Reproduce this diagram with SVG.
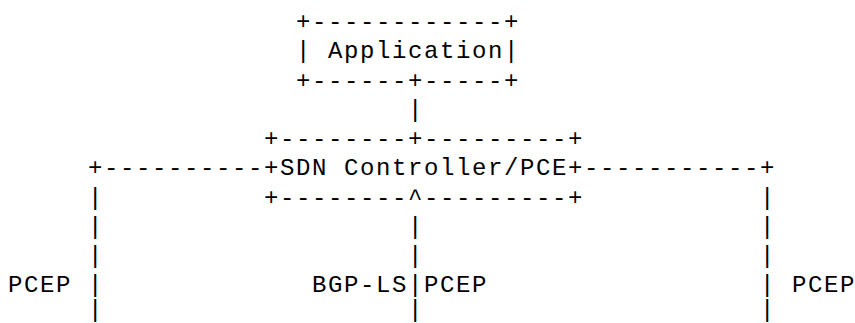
<svg xmlns="http://www.w3.org/2000/svg" width="855" height="323" viewBox="0 0 855 323">
<style>
  text { font-family: "Liberation Mono", "DejaVu Sans Mono", monospace; font-size: 24px; letter-spacing: 1.6px; fill: #000; white-space: pre; }
</style>
<rect width="855" height="323" fill="#fff"/>
<g id="application">
  <text x="296" y="29" xml:space="preserve">+------------+</text>
  <text x="296" y="58.25" xml:space="preserve">| Application|</text>
  <text x="296" y="87.5" xml:space="preserve">+------+-----+</text>
</g>
<g id="sdn-controller">
  <text x="264" y="146" xml:space="preserve">+--------+---------+</text>
  <text x="264" y="175.25" xml:space="preserve">+SDN Controller/PCE+</text>
  <text x="264" y="204.5" xml:space="preserve">+--------^---------+</text>
</g>
<g id="connectors">
  <text x="408" y="116.75">|</text>
  <text x="88" y="175.25">+----------</text>
  <text x="584" y="175.25">-----------+</text>
  <text x="88" y="204.5">|</text>
  <text x="760" y="204.5">|</text>
  <text x="88" y="233.75">|</text>
  <text x="408" y="233.75">|</text>
  <text x="760" y="233.75">|</text>
  <text x="88" y="263">|</text>
  <text x="408" y="263">|</text>
  <text x="760" y="263">|</text>
  <text x="88" y="292.25">|</text>
  <text x="408" y="292.25">|</text>
  <text x="760" y="292.25">|</text>
  <text x="88" y="317">|</text>
  <text x="408" y="317">|</text>
  <text x="760" y="317">|</text>
</g>
<g id="labels">
  <text x="8" y="292.25">PCEP</text>
  <text x="312" y="292.25">BGP-LS</text>
  <text x="424" y="292.25">PCEP</text>
  <text x="792" y="292.25">PCEP</text>
</g>
</svg>
